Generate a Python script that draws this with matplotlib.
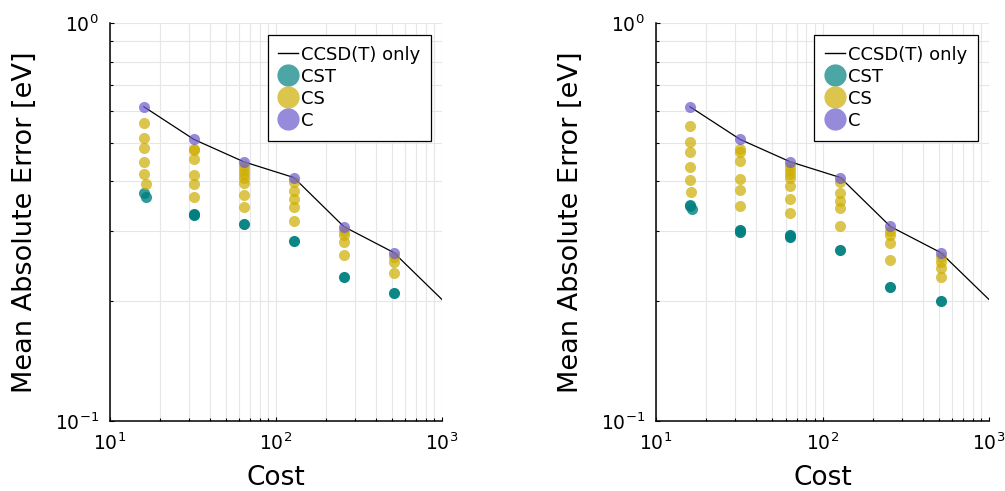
import numpy as np
from matplotlib import pyplot as plt
from matplotlib.lines import Line2D
from matplotlib.ticker import NullFormatter, LogLocator

# CCSD(T) only reference line (same in both panels)
line_cost = [16, 32, 64, 128, 256, 512, 1024]
line_mae = [0.616, 0.510, 0.448, 0.409, 0.308, 0.265, 0.200]

# left panel
left_c_cost = [16, 32, 64, 128, 256, 512]
left_c_mae = [0.616, 0.510, 0.448, 0.409, 0.308, 0.265]
left_cs_cost = [16, 16, 16, 16, 16, 16.4,
                32, 32, 32, 32, 32, 32,
                64, 64, 64, 64, 64, 64, 64,
                128, 128, 128, 128, 128,
                256, 256, 256, 256,
                512, 512, 512]
left_cs_mae = [0.560, 0.513, 0.484, 0.447, 0.418, 0.394,
               0.482, 0.479, 0.455, 0.415, 0.394, 0.365,
               0.437, 0.427, 0.417, 0.407, 0.396, 0.370, 0.345,
               0.399, 0.378, 0.362, 0.345, 0.318,
               0.301, 0.293, 0.282, 0.261,
               0.259, 0.251, 0.236]
left_cst_cost = [16, 16.4, 32, 32, 64, 128, 256, 512]
left_cst_mae = [0.375, 0.365, 0.332, 0.329, 0.313, 0.284, 0.230, 0.210]

# right panel
right_c_cost = [16, 32, 64, 128, 256, 512]
right_c_mae = [0.616, 0.510, 0.448, 0.409, 0.309, 0.264]
right_cs_cost = [16, 16, 16, 16, 16, 16.3,
                 32, 32, 32, 32, 32, 32,
                 64, 64, 64, 64, 64, 64, 64,
                 128, 128, 128, 128, 128,
                 256, 256, 256, 256,
                 512, 512, 512, 512]
right_cs_mae = [0.552, 0.503, 0.473, 0.435, 0.403, 0.377,
                0.482, 0.475, 0.450, 0.405, 0.380, 0.347,
                0.437, 0.427, 0.417, 0.407, 0.389, 0.361, 0.334,
                0.398, 0.375, 0.358, 0.342, 0.309,
                0.301, 0.293, 0.280, 0.254,
                0.259, 0.251, 0.243, 0.230]
right_cst_cost = [16, 16, 16.4, 32, 32, 64, 64, 128, 256, 512]
right_cst_mae = [0.349, 0.347, 0.340, 0.302, 0.299, 0.294, 0.290, 0.269, 0.217, 0.200]

col_cst = "#008080"
col_cs = "#cdad00"
col_c = "#6a5acd"
alpha = 0.7


def panel(ax, c_cost, c_mae, cs_cost, cs_mae, cst_cost, cst_mae, legend_x):
    ax.plot(line_cost, line_mae, color="black", lw=0.9, zorder=2)
    # teal points beyond cost 16 look fully opaque in the original
    for x, y in zip(cst_cost, cst_mae):
        a = 0.8 if x < 20 else 0.95
        ax.plot(x, y, "o", color=col_cst, alpha=a, ms=8, mew=0, zorder=3)
    ax.plot(cs_cost, cs_mae, "o", color=col_cs, alpha=alpha, ms=8, mew=0, zorder=3)
    ax.plot(c_cost, c_mae, "o", color=col_c, alpha=alpha, ms=8, mew=0, zorder=3)
    ax.set_xscale("log")
    ax.set_yscale("log")
    ax.set_xlim(10, 1000)
    ax.set_ylim(0.1, 1)
    ax.yaxis.set_minor_formatter(NullFormatter())
    ax.xaxis.set_minor_formatter(NullFormatter())
    ax.xaxis.set_minor_locator(LogLocator(base=10, subs=np.arange(2, 10)))
    ax.yaxis.set_minor_locator(LogLocator(base=10, subs=np.arange(2, 10)))
    ax.grid(True, which="both", color="#e6e6e6", lw=0.8, zorder=0)
    ax.set_axisbelow(True)
    for s in ["top", "right"]:
        ax.spines[s].set_visible(False)
    ax.spines["left"].set_linewidth(1.1)
    ax.spines["bottom"].set_linewidth(1.1)
    ax.tick_params(which="both", direction="in", labelsize=13.5, length=3, width=0.8)
    ax.tick_params(axis="x", pad=8)
    ax.tick_params(axis="y", pad=8)
    ax.tick_params(which="minor", length=2)
    ax.set_xlabel("Cost", fontsize=19, labelpad=8)
    ax.set_ylabel("Mean Absolute Error [eV]", fontsize=19.5, labelpad=12)

    handles = [Line2D([], [], color="black", lw=1),
               Line2D([], [], ls="", marker="o", color=col_cst, alpha=alpha, ms=16, mew=0),
               Line2D([], [], ls="", marker="o", color=col_cs, alpha=alpha, ms=16, mew=0),
               Line2D([], [], ls="", marker="o", color=col_c, alpha=alpha, ms=16, mew=0)]
    leg = ax.legend(handles, ["CCSD(T) only", "CST", "CS", "C"],
                    loc="upper right", bbox_to_anchor=(legend_x, 0.97), borderaxespad=0,
                    fontsize=13, fancybox=False, framealpha=1, edgecolor="black",
                    handlelength=1.1, handletextpad=0.15, labelspacing=0.22,
                    borderpad=0.6)
    leg.get_frame().set_linewidth(0.9)


fig = plt.figure(figsize=(10.05, 4.91), dpi=100)
ax1 = fig.add_axes([110 / 1005, 70 / 491, 332 / 1005, 398 / 491])
ax2 = fig.add_axes([656 / 1005, 70 / 491, 333 / 1005, 398 / 491])

panel(ax1, left_c_cost, left_c_mae, left_cs_cost, left_cs_mae, left_cst_cost, left_cst_mae, 0.967)
panel(ax2, right_c_cost, right_c_mae, right_cs_cost, right_cs_mae, right_cst_cost, right_cst_mae, 0.966)

fig.savefig("out.png", dpi=100)
